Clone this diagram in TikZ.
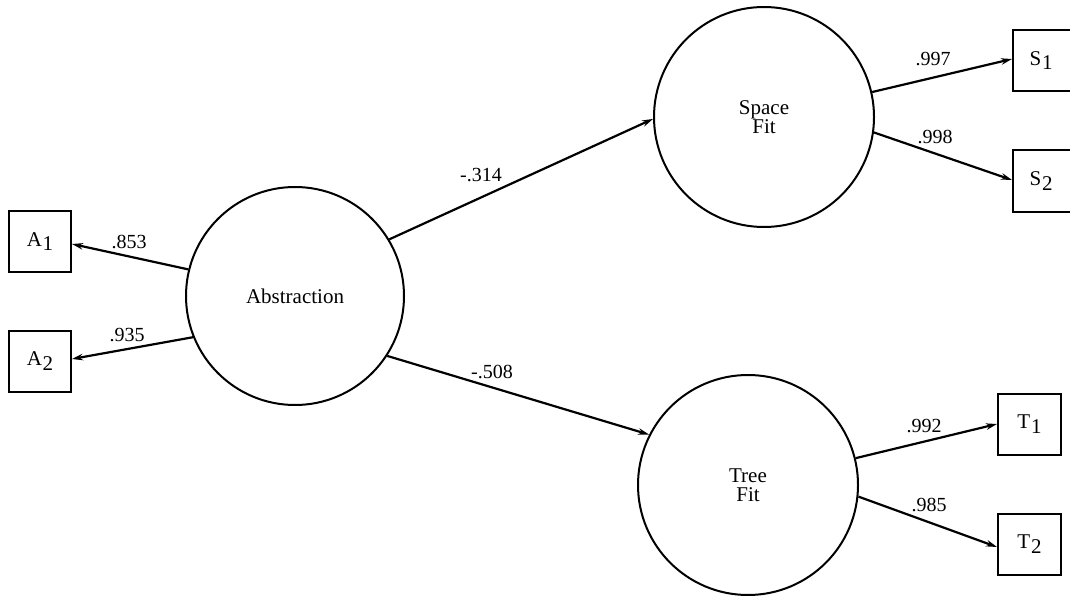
\documentclass[tikz,border=0pt]{standalone}
\usepackage{fontspec}
\setmainfont{Liberation Serif}
\usetikzlibrary{arrows.meta}
\newcommand{\lowsub}[2]{#1\kern0.8pt\raisebox{-0.5ex}{#2}}
\begin{document}
\begin{tikzpicture}[x=1pt,y=-1pt,
 latent/.style={draw,circle,line width=2pt,inner sep=0pt,align=center,font=\fontsize{21}{22}\selectfont},
 manifest/.style={draw,rectangle,line width=2pt,minimum width=62pt,minimum height=61pt,inner sep=0pt,font=\fontsize{21}{22}\selectfont},
 link/.style={line width=2.2pt,-{Stealth[length=11pt,width=6.5pt]}},
 coef/.style={font=\fontsize{20}{21}\selectfont,inner sep=0pt}]
\useasboundingbox (0,0) rectangle (1070,596);
% latent variables
\node[latent,minimum size=218pt] (abs) at (295,296) {Abstraction};
\node[latent,minimum size=220pt] (space) at (764,117) {Space\\[-3pt]Fit};
\node[latent,minimum size=220pt] (tree) at (748,485) {Tree\\[-3pt]Fit};
% manifest variables
\node[manifest] (A1) at (40,241.5) {\lowsub{A}{1}};
\node[manifest] (A2) at (40,361) {\lowsub{A}{2}};
\node[manifest,minimum width=66pt] (S1) at (1046,60.5) {\hspace*{-10pt}\lowsub{S}{1}};
\node[manifest,minimum width=66pt] (S2) at (1046,181) {\hspace*{-10pt}\lowsub{S}{2}};
\node[manifest,minimum width=63pt] (T1) at (1029.5,424) {\lowsub{T}{1}};
\node[manifest,minimum width=63pt] (T2) at (1029.5,544.5) {\lowsub{T}{2}};
% paths
\draw[link] (abs.166) -- ([yshift=-2.5pt]A1.east);
\draw[link] (abs.202) -- ([yshift=2pt]A2.east);
\draw[link] (abs.31) -- (space.181);
\draw[link] (abs.-33) -- (tree.153);
\draw[link] (space.13.4) -- ([yshift=1.5pt]S1.west);
\draw[link] (space.-8.4) -- ([yshift=1pt]S2.west);
\draw[link] (tree.14.9) -- (T1.west);
\draw[link] (tree.-6.6) -- ([yshift=-2.5pt]T2.west);
% coefficients
\node[coef] (c1) at (129,242) {.853};
\node[coef] (c2) at (127,335) {.935};
\node[coef] (c3) at (481,175) {-.314};
\node[coef] (c4) at (492,372) {-.508};
\node[coef] (c5) at (933,59) {.997};
\node[coef] (c6) at (935,137) {.998};
\node[coef] (c7) at (924,426) {.992};
\node[coef] (c8) at (929,505) {.985};
\end{tikzpicture}
\end{document}
